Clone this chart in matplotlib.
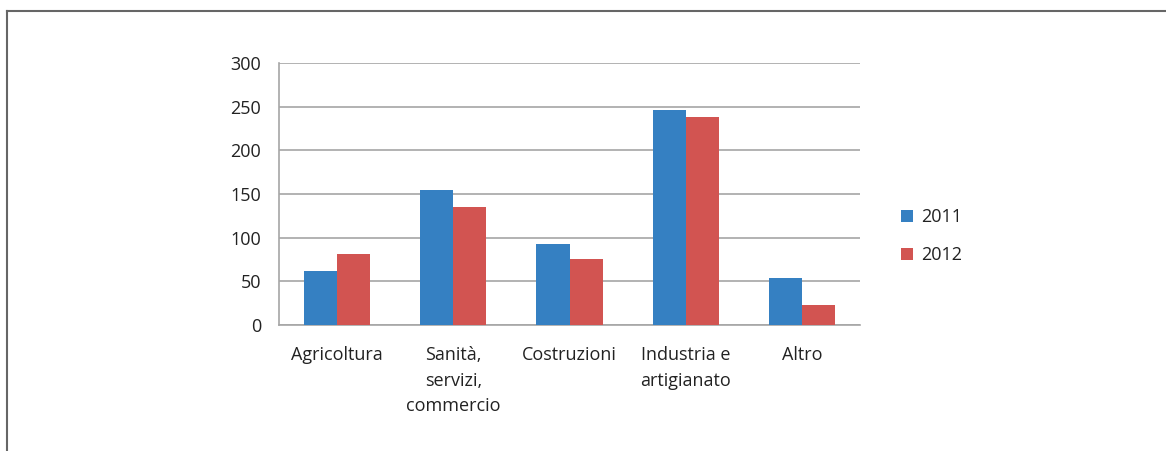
import matplotlib
matplotlib.use("Agg")
import matplotlib.pyplot as plt
import numpy as np
from matplotlib.lines import Line2D

categories = ["Agricoltura", "Sanità,\nservizi,\ncommercio", "Costruzioni",
              "Industria e\nartigianato", "Altro"]
series_names = ["2011", "2012"]
values_2011 = [62, 155, 93, 246, 54]
values_2012 = [81, 135, 76, 238, 23]
yticks = [0, 50, 100, 150, 200, 250, 300]
colors = ["#3580C2", "#D25451"]

plt.rcParams['font.family'] = ['Open Sans', 'DejaVu Sans']
W, H = 1166, 451
fig = plt.figure(figsize=(W/100, H/100), dpi=100)
ax = fig.add_axes([279/W, 1-325/H, (860-279)/W, (325-63)/H])

x = np.arange(len(categories))
bw = 0.285
ax.bar(x - bw/2, values_2011, bw, color=colors[0], label=series_names[0], zorder=3)
ax.bar(x + bw/2, values_2012, bw, color=colors[1], label=series_names[1], zorder=3)

ax.set_xlim(-0.5, len(categories)-0.5)
ax.set_ylim(0, 300)
ax.set_yticks(yticks)
ax.set_xticks(x)
ax.set_xticklabels(categories, fontsize=13, color="#222222", linespacing=1.55, va="top")
ax.tick_params(axis='y', length=0, pad=13, labelsize=13, labelcolor="#222222")
ax.tick_params(axis='x', length=0, pad=15)
ax.grid(axis='y', color="#A6A6A6", linewidth=1.2, zorder=0)
for s in ["top", "right"]:
    ax.spines[s].set_visible(False)
ax.spines["left"].set_color("#A6A6A6")
ax.spines["bottom"].set_color("#A6A6A6")
ax.spines["left"].set_linewidth(1.2)
ax.spines["bottom"].set_linewidth(1.2)

leg = fig.legend(loc="center left", bbox_to_anchor=(885/W, 1-236/H), frameon=False,
                 fontsize=13, handlelength=0.65, handleheight=0.65, handletextpad=0.45,
                 labelspacing=1.1)
for t in leg.get_texts():
    t.set_color("#222222")

fig.add_artist(Line2D([7/W, 7/W], [0, 1-11/H], transform=fig.transFigure, color="#666666", linewidth=1.5))
fig.add_artist(Line2D([7/W, 1], [1-11/H, 1-11/H], transform=fig.transFigure, color="#666666", linewidth=1.5))

fig.savefig("out.png", dpi=100)
